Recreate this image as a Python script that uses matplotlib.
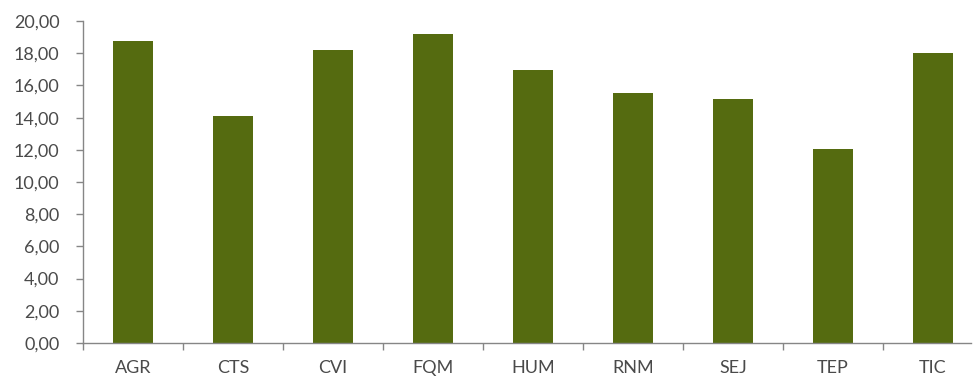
import numpy as np
import matplotlib
matplotlib.use("Agg")
import matplotlib.pyplot as plt
from matplotlib.ticker import FixedLocator, FuncFormatter

# values
categories = ["AGR", "CTS", "CVI", "FQM", "HUM", "RNM", "SEJ", "TEP", "TIC"]
values = [18.76, 14.10, 18.20, 19.19, 16.96, 15.53, 15.16, 12.05, 18.01]

bar_color = "#556b10"
axis_color = "#868686"
text_color = "#4a4a4a"

plt.rcParams["font.family"] = ["Lato", "DejaVu Sans"]

fig = plt.figure(figsize=(9.79, 3.76), dpi=100)
# plot area runs a bit past the right edge, like the cropped original
ax = fig.add_axes([83 / 979, 0.0878, 900 / 979, 0.8562])

x = np.arange(len(categories))
ax.bar(x, values, width=0.4, color=bar_color, zorder=2)

ax.set_xlim(-0.5, len(categories) - 0.5)
ax.set_ylim(0, 20)
ax.set_yticks(np.arange(0, 21, 2))
ax.yaxis.set_major_formatter(FuncFormatter(lambda v, p: "{0:.2f}".format(v).replace(".", ",")))

ax.set_xticks(x)
ax.set_xticklabels(categories)
ax.xaxis.set_minor_locator(FixedLocator(np.arange(-0.5, len(categories) - 1, 1.0)))
ax.tick_params(axis="x", which="major", length=0, pad=12, labelsize=13, labelcolor=text_color)
ax.tick_params(axis="x", which="minor", length=5, width=1, color=axis_color)
ax.tick_params(axis="y", length=5, width=1, color=axis_color, labelsize=13,
               labelcolor=text_color, pad=12)

for side in ["top", "right"]:
    ax.spines[side].set_visible(False)
for side in ["left", "bottom"]:
    ax.spines[side].set_color(axis_color)
    ax.spines[side].set_linewidth(1)
ax.spines["bottom"].set_bounds(-0.5, 8.38)

fig.savefig("out.png", dpi=100)
